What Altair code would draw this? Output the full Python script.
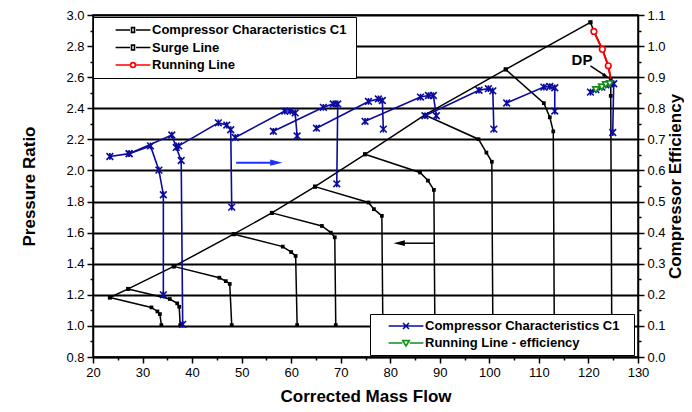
import altair as alt
import pandas as pd

# ---------------- data ----------------
# Compressor characteristics C1 (black speed lines) : corrected mass flow / pressure ratio
speed_mf = [
    [23.4, 31.8, 33.0, 33.5, 33.8],
    [27.1, 35.5, 37.0, 37.4, 37.6],
    [36.3, 45.5, 46.8, 47.6, 48.0],
    [48.4, 58.3, 60.0, 60.9, 61.2],
    [56.1, 66.2, 68.0, 68.8, 69.0],
    [64.8, 75.6, 76.7, 78.3, 78.5],
    [74.9, 86.0, 87.6, 88.8, 89.0],
    [87.0, 97.8, 99.4, 100.5, 100.7],
    [103.3, 111.0, 112.2, 112.9, 113.1],
    [120.4, 121.1, 122.8, 124.0, 124.5, 124.5, 124.7],
]
speed_pr = [
    [1.183, 1.119, 1.093, 1.076, 1.005],
    [1.238, 1.173, 1.145, 1.123, 1.005],
    [1.383, 1.310, 1.288, 1.270, 1.005],
    [1.590, 1.510, 1.475, 1.450, 1.005],
    [1.727, 1.643, 1.600, 1.570, 1.005],
    [1.896, 1.794, 1.751, 1.708, 1.005],
    [2.104, 1.987, 1.935, 1.875, 1.005],
    [2.357, 2.201, 2.115, 2.056, 1.005],
    [2.650, 2.433, 2.342, 2.251, 1.005],
    [2.953, 2.894, 2.779, 2.673, 2.590, 2.480, 1.005],
]
# Surge line
surge_mf = [23.4, 27.1, 36.3, 48.4, 56.1, 64.8, 74.9, 87.0, 103.3, 120.4]
surge_pr = [1.183, 1.238, 1.383, 1.590, 1.727, 1.896, 2.104, 2.357, 2.650, 2.953]
# Running line (pressure ratio)
run_mf = [121.1, 122.8, 124.0, 124.5]
run_pr = [2.894, 2.779, 2.673, 2.590]

# Compressor characteristics C1 (blue, efficiency, right axis)
eff_mf = [
    [23.4, 27.3, 31.6, 33.3, 34.2, 34.2],
    [27.3, 35.9, 36.8, 37.8, 38.1],
    [37.3, 45.3, 47.0, 47.8, 48.0],
    [48.7, 58.7, 59.8, 60.8, 61.2],
    [56.4, 66.5, 68.5, 69.4, 69.2],
    [65.1, 75.6, 77.6, 78.4, 78.6],
    [74.9, 86.1, 87.7, 88.7, 89.3],
    [87.0, 97.9, 99.8, 100.7, 100.9],
    [103.5, 111.0, 112.2, 113.2, 113.2],
    [120.4, 121.5, 122.7, 123.5, 124.3, 125.1, 124.9],
]
eff_val = [
    [0.645, 0.654, 0.679, 0.601, 0.522, 0.200],
    [0.654, 0.714, 0.674, 0.632, 0.105],
    [0.679, 0.753, 0.746, 0.731, 0.482],
    [0.706, 0.791, 0.791, 0.785, 0.711],
    [0.726, 0.803, 0.814, 0.814, 0.557],
    [0.736, 0.822, 0.830, 0.825, 0.733],
    [0.758, 0.836, 0.841, 0.841, 0.776],
    [0.776, 0.858, 0.863, 0.856, 0.733],
    [0.817, 0.868, 0.870, 0.866, 0.791],
    [0.852, 0.860, 0.868, 0.875, 0.879, 0.879, 0.722],
]
# Running line - efficiency
runeff_mf = [121.5, 122.7, 123.5, 124.3]
runeff_val = [0.860, 0.868, 0.876, 0.879]

legend_left = ["Compressor Characteristics C1", "Surge Line", "Running Line"]
legend_right = ["Compressor Characteristics C1", "Running Line - efficiency"]

# annotations (arrows, DP label)
blue_arrow = {"x1": [48.9], "x2": [56.0], "y": [2.05], "head": [57.0]}
black_arrow = {"x1": [88.8], "x2": [82.4], "y": [1.532], "head": [81.8]}
dp_label = {"mf": [118.7], "v": [2.71], "t": ["DP"]}
dp_arrow = {"x1": [120.4], "y1": [2.672], "x2": [123.3], "y2": [2.612]}
dp_head = {"mf": [123.6], "v": [2.605]}

# ---------------- helpers ----------------
FONT = "Liberation Sans"
BLUE = "#0b0b9e"
GREEN = "#12901a"
RED = "#ff0000"


def lines_df(xs, ys):
    rows = []
    for i, (lx, ly) in enumerate(zip(xs, ys)):
        for j, (a, b) in enumerate(zip(lx, ly)):
            rows.append({"line": i, "ord": j, "mf": a, "v": b})
    return pd.DataFrame(rows)


def is_mult(step):
    k = round(1 / step)
    return f"abs(datum.value*{k} - round(datum.value*{k})) < 0.01"


xscale = alt.Scale(domain=[20, 130], nice=False, zero=False)
xaxis = alt.Axis(
    values=list(range(20, 131, 5)),
    labelExpr="datum.value % 10 === 0 ? datum.label : ''",
    tickSize={"condition": {"test": "datum.value % 10 === 0", "value": 6}, "value": 3},
    grid=False, labelFontSize=13, labelFont=FONT, labelColor="black",
    titleFont=FONT, titleFontSize=17, titleFontWeight="bold", titleColor="black",
    titlePadding=9, domainColor="black", domainWidth=1.5, tickColor="black",
    tickWidth=1.5, labelPadding=3, labelFlush=False, labelOverlap=False,
)
yl_vals = [round(0.8 + 0.1 * i, 2) for i in range(23)]
ylscale = alt.Scale(domain=[0.8, 3.0], nice=False, zero=False)
ylaxis = alt.Axis(
    values=yl_vals, format=".1f", orient="left",
    labelExpr=f"{is_mult(0.2)} ? datum.label : ''",
    tickSize={"condition": {"test": is_mult(0.2), "value": 6}, "value": 3},
    grid=True, gridColor="black", gridWidth=1.8,
    gridOpacity={"condition": {"test": is_mult(0.2), "value": 1}, "value": 0},
    labelFontSize=13, labelFont=FONT, labelColor="black",
    titleFont=FONT, titleFontSize=17, titleFontWeight="bold", titleColor="black",
    titlePadding=27, domainColor="black", domainWidth=1.5, tickColor="black",
    tickWidth=1.5, labelPadding=3, labelOverlap=False, labelFlush=False,
)
yr_vals = [round(0.05 * i, 2) for i in range(23)]
yrscale = alt.Scale(domain=[0.0, 1.1], nice=False, zero=False)
yraxis = alt.Axis(
    values=yr_vals, format=".1f", orient="right",
    labelExpr=f"{is_mult(0.1)} ? datum.label : ''",
    tickSize={"condition": {"test": is_mult(0.1), "value": 6}, "value": 3},
    grid=False, labelFontSize=13, labelFont=FONT, labelColor="black",
    titleFont=FONT, titleFontSize=17, titleFontWeight="bold", titleColor="black",
    titleAngle=270, titleBaseline="top", titlePadding=2, domainColor="black",
    domainWidth=1.5, tickColor="black", tickWidth=1.5, labelPadding=3,
    labelOverlap=False, labelFlush=False,
)


def X(f):
    return alt.X(f"{f}:Q", scale=xscale, axis=xaxis, title="Corrected Mass Flow")


def YL(f):
    return alt.Y(f"{f}:Q", scale=ylscale, axis=ylaxis, title="Pressure Ratio")


def YR(f):
    return alt.Y(f"{f}:Q", scale=yrscale, axis=yraxis, title="Compressor Efficiency")


# legend symbol paths (line + marker), unit = 6 px
P_SQ = "M-2.9,0H-0.5M0.5,0H2.9M-0.25,-0.4H0.25V0.4H-0.25Z"
P_CI = "M-2.9,0H-0.5M0.5,0H2.9M0.4,0A0.4,0.4,0,1,1,-0.4,0A0.4,0.4,0,1,1,0.4,0"
P_X = "M-2.9,0H2.9M-0.5,-0.5L0.5,0.5M-0.5,0.5L0.5,-0.5"
P_TR = "M-2.9,0H-0.6M0.6,0H2.9M-0.55,-0.4L0.55,-0.4L0,0.5Z"
AST = "M-1,-1L1,1M-1,1L1,-1M0,-1L0,1"
HEAD = "M-1,-0.5L1,0L-1,0.5Z"


def legend(x, y, pad, sym_off, lab_off, rowpad, extra):
    # an invisible (white) title on the right side only widens the white legend box
    return alt.Legend(
        orient="none", legendX=x, legendY=y,
        title=".", titleOrient="right", titleColor="white", titleFontSize=10,
        titlePadding=extra,
        labelFont=FONT, labelFontSize=13, labelFontWeight="bold", labelColor="black",
        labelLimit=400,
        fillColor="white", strokeColor="black", padding=pad, rowPadding=rowpad,
        symbolSize=144, symbolOffset=sym_off, labelOffset=lab_off,
        symbolStrokeWidth=1.6, zindex=1,
    )


# ---------------- left (pressure ratio) group ----------------
sp = lines_df(speed_mf, speed_pr)
sg = pd.DataFrame({"mf": surge_mf, "v": surge_pr})
rn = pd.DataFrame({"mf": run_mf, "v": run_pr})

speed_lines = alt.Chart(sp).mark_line(color="black", strokeWidth=1.5).encode(
    x=X("mf"), y=YL("v"), detail="line:N", order="ord:Q")
speed_pts = alt.Chart(sp).mark_point(shape="square", filled=True, size=14, color="black", opacity=1).encode(
    x=X("mf"), y=YL("v"))
surge_line = alt.Chart(sg).mark_line(color="black", strokeWidth=1.5).encode(
    x=X("mf"), y=YL("v"), order="mf:Q")
surge_pts = alt.Chart(sg).mark_point(shape="square", filled=True, size=16, color="black", opacity=1).encode(
    x=X("mf"), y=YL("v"))
run_line = alt.Chart(rn).mark_line(color=RED, strokeWidth=2).encode(
    x=X("mf"), y=YL("v"), order="v:Q")
run_pts = alt.Chart(rn.iloc[:3]).mark_point(shape="circle", filled=True, fill="white", stroke=RED,
                                            strokeWidth=1.6, size=32, opacity=1).encode(
    x=X("mf"), y=YL("v"))

ba = pd.DataFrame(blue_arrow)
blue_rule = alt.Chart(ba).mark_rule(color="#1f2fff", strokeWidth=2).encode(
    x=X("x1"), x2="x2:Q", y=YL("y"))
blue_head = alt.Chart(ba).mark_point(shape=HEAD, filled=True, color="#1f2fff", size=150, opacity=1).encode(
    x=X("head"), y=YL("y"))
ka = pd.DataFrame(black_arrow)
black_rule = alt.Chart(ka).mark_rule(color="black", strokeWidth=1.5).encode(
    x=X("x1"), x2="x2:Q", y=YL("y"))
black_head = alt.Chart(ka).mark_point(shape=HEAD, filled=True, color="black", size=130, angle=180, opacity=1).encode(
    x=X("head"), y=YL("y"))
dpt = alt.Chart(pd.DataFrame(dp_label)).mark_text(font=FONT, fontSize=15, fontWeight="bold", color="black").encode(
    x=X("mf"), y=YL("v"), text="t:N")
dpr = alt.Chart(pd.DataFrame(dp_arrow)).mark_rule(color="black", strokeWidth=1.5).encode(
    x=X("x1"), x2="x2:Q", y=YL("y1"), y2="y2:Q")
dph = alt.Chart(pd.DataFrame(dp_head)).mark_point(shape=HEAD, filled=True, color="black", size=60, angle=33, opacity=1).encode(
    x=X("mf"), y=YL("v"))

leg_l_df = pd.DataFrame({"mf": [200.0] * 3, "v": [2.0] * 3, "lg": legend_left})
LEG_L = legend(0, 2, 6, 27, 12, 3.5, 1)
leg_l = alt.Chart(leg_l_df).mark_point(clip=True, filled=False, opacity=1, strokeWidth=1.6).encode(
    x=X("mf"), y=YL("v"),
    color=alt.Color("lg:N", scale=alt.Scale(domain=legend_left, range=["black", "black", RED]), legend=LEG_L),
    shape=alt.Shape("lg:N", scale=alt.Scale(domain=legend_left, range=[P_SQ, P_SQ, P_CI]), legend=LEG_L),
)

left = alt.layer(speed_lines, speed_pts, surge_line, surge_pts, run_line, run_pts,
                 blue_rule, blue_head, black_rule, black_head, dpr, dph, dpt, leg_l)

# ---------------- right (efficiency) group ----------------
ef = lines_df(eff_mf, eff_val)
re = pd.DataFrame({"mf": runeff_mf, "v": runeff_val})

eff_lines = alt.Chart(ef).mark_line(color=BLUE, strokeWidth=1.6).encode(
    x=X("mf"), y=YR("v"), detail="line:N", order="ord:Q")
eff_pts = alt.Chart(ef).mark_point(shape=AST, filled=False, color=BLUE, size=45, strokeWidth=1.6, opacity=1).encode(
    x=X("mf"), y=YR("v"))
re_line = alt.Chart(re).mark_line(color=GREEN, strokeWidth=1.6).encode(
    x=X("mf"), y=YR("v"), order="mf:Q")
re_pts = alt.Chart(re).mark_point(shape="triangle-down", filled=True, fill="white", stroke=GREEN,
                                  strokeWidth=1.6, size=40, opacity=1).encode(
    x=X("mf"), y=YR("v"))

leg_r_df = pd.DataFrame({"mf": [200.0] * 2, "v": [0.5] * 2, "lg2": legend_right})
LEG_R = legend(277, 299, 5, 24, 12, 3, 7)
leg_r = alt.Chart(leg_r_df).mark_point(clip=True, filled=False, opacity=1, strokeWidth=1.6).encode(
    x=X("mf"), y=YR("v"),
    color=alt.Color("lg2:N", scale=alt.Scale(domain=legend_right, range=[BLUE, GREEN]), legend=LEG_R),
    shape=alt.Shape("lg2:N", scale=alt.Scale(domain=legend_right, range=[P_X, P_TR]), legend=LEG_R),
)

right = alt.layer(eff_lines, eff_pts, re_line, re_pts, leg_r)

chart = alt.layer(left, right).resolve_scale(
    y="independent", color="independent", shape="independent"
).properties(
    width=676, height=396,
    autosize=alt.AutoSizeParams(type="fit", contains="padding"),
    padding={"left": 12, "top": 1, "right": 0, "bottom": 0},
).configure_view(stroke="black", strokeWidth=1.5)

chart.save("out.html", embed_options={"renderer": "svg", "actions": False})
